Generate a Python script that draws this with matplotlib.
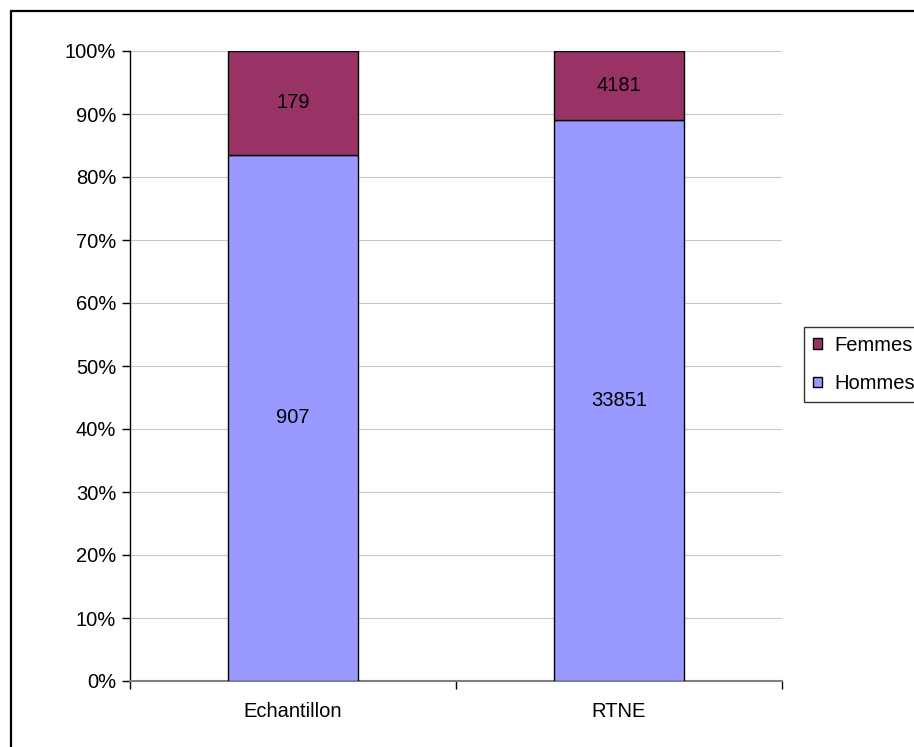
import matplotlib.pyplot as plt
from matplotlib.patches import Rectangle
from matplotlib.ticker import PercentFormatter

plt.rcParams['font.family'] = ['Liberation Sans', 'DejaVu Sans']

# Data
categories = ["Echantillon", "RTNE"]
hommes = [907, 33851]
femmes = [179, 4181]

totals = [h + f for h, f in zip(hommes, femmes)]
hommes_pct = [h / t * 100 for h, t in zip(hommes, totals)]
femmes_pct = [f / t * 100 for f, t in zip(femmes, totals)]

fs = 14.5

fig = plt.figure(figsize=(9.14, 7.47), dpi=100)
ax = fig.add_axes([130 / 914, 1 - 681 / 747, 652 / 914, 630 / 747])

# outer chart border (cut off at the right and bottom like the original)
fig.patches.append(Rectangle((11 / 914, -0.05), 1.0, 1 - 11 / 747 + 0.05,
                             transform=fig.transFigure, fill=False,
                             edgecolor="black", linewidth=1.6))

x = range(len(categories))
b1 = ax.bar(x, hommes_pct, width=0.4, color="#9999FF", edgecolor="black",
            linewidth=1, label="Hommes", zorder=3)
b2 = ax.bar(x, femmes_pct, width=0.4, bottom=hommes_pct, color="#993366",
            edgecolor="black", linewidth=1, label="Femmes", zorder=3)

# value labels in the middle of each segment
for i in x:
    ax.text(i, hommes_pct[i] / 2, str(hommes[i]), ha="center", va="center",
            fontsize=fs, zorder=4)
    ax.text(i, hommes_pct[i] + femmes_pct[i] / 2, str(femmes[i]), ha="center",
            va="center", fontsize=fs, zorder=4)

ax.set_xlim(-0.5, 1.5)
ax.set_ylim(0, 100)
ax.set_yticks(range(0, 101, 10))
ax.yaxis.set_major_formatter(PercentFormatter(decimals=0))
ax.set_xticks([-0.5, 0.5, 1.5], minor=False)
ax.set_xticklabels([])
ax.set_xticks(list(x), minor=True)
ax.set_xticklabels(categories, minor=True)
ax.tick_params(axis="x", which="minor", length=0, pad=15, labelsize=fs)
ax.tick_params(axis="x", which="major", length=6, width=1, color="black")
ax.tick_params(axis="y", length=6, width=1, labelsize=fs, pad=4)

ax.grid(axis="y", color="#c8c8c8", linewidth=0.8, zorder=0)
for s in ["top", "right"]:
    ax.spines[s].set_visible(False)
ax.spines["bottom"].set_color("#808080")
ax.spines["bottom"].set_linewidth(1.5)
ax.spines["left"].set_linewidth(1)

leg = fig.legend([b2, b1], ["Femmes", "Hommes"], loc="upper left",
                 bbox_to_anchor=(804 / 914, 1 - 327 / 747), fontsize=fs,
                 frameon=True, fancybox=False, edgecolor="black",
                 handlelength=0.45, handleheight=0.45, handletextpad=0.6,
                 labelspacing=0.95, borderpad=0.45, borderaxespad=0)
leg.get_frame().set_linewidth(1)

plt.savefig("out.png", dpi=100)
